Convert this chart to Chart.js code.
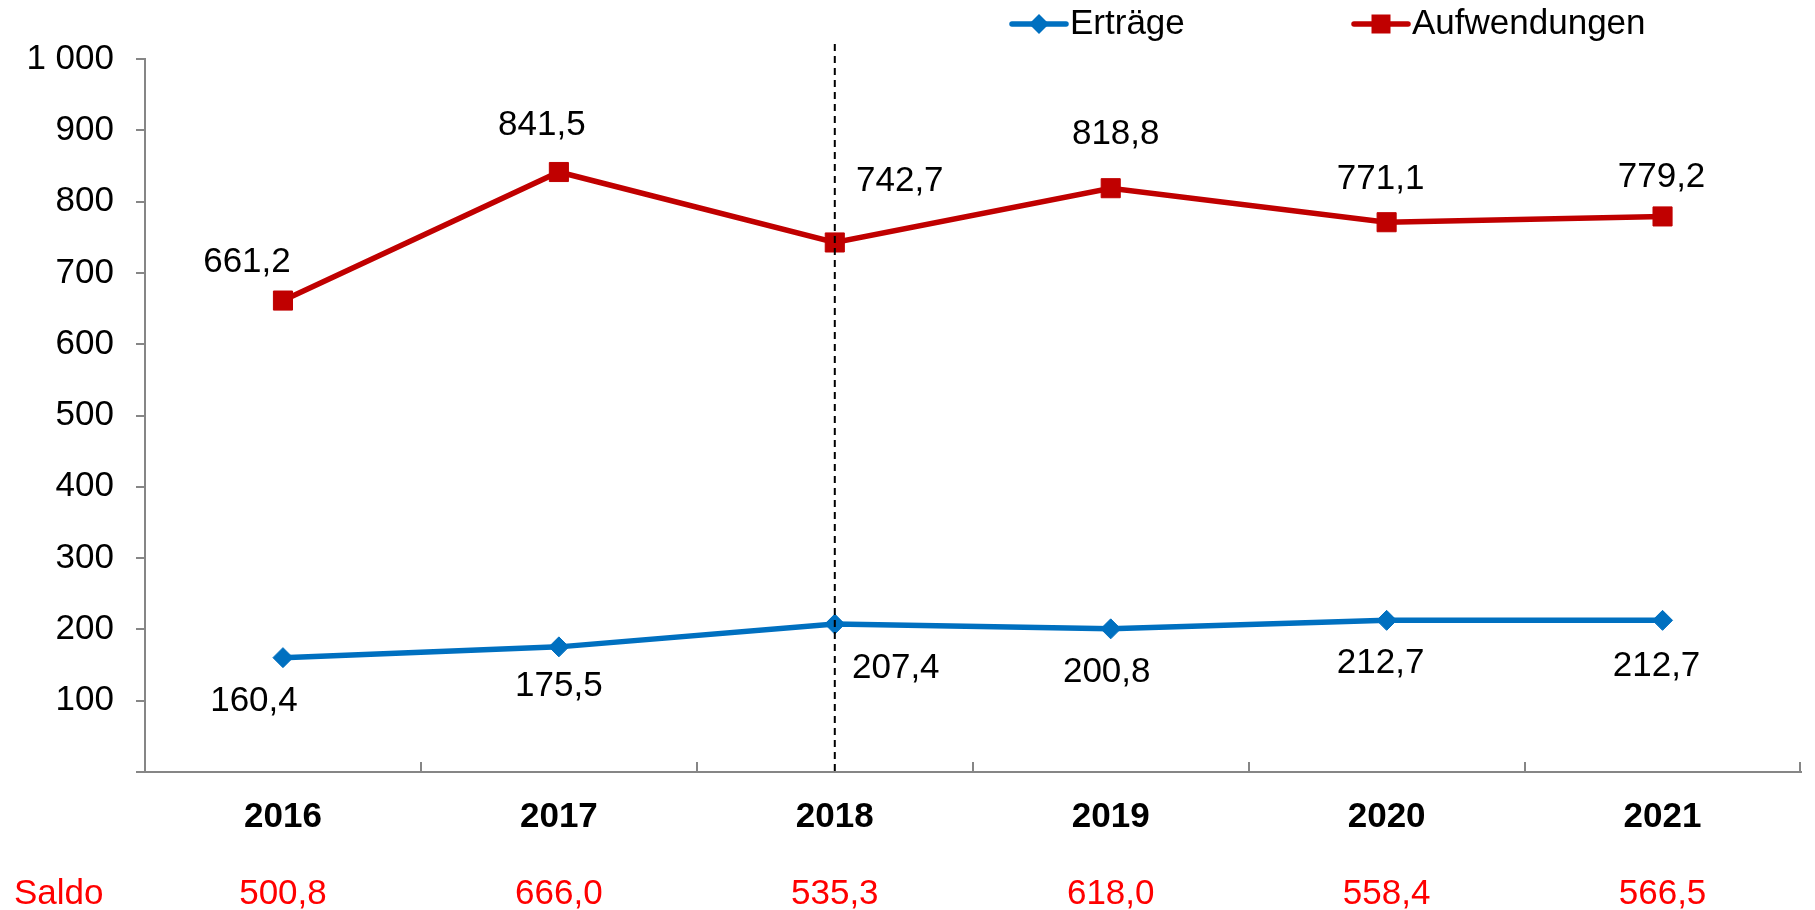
<!DOCTYPE html>
<html>
<head>
<meta charset="utf-8">
<title>Erträge und Aufwendungen</title>
<script src="https://cdn.jsdelivr.net/npm/chart.js@4.4.1/dist/chart.umd.min.js"></script>
<style>
  body { margin: 0; background: #fff; }
  #wrap { width: 1815px; height: 910px; }
</style>
</head>
<body>
<div id="wrap"><canvas id="ergebnisChart" width="1815" height="910"></canvas></div>
<script>
// Daten
var jahre = ['2016', '2017', '2018', '2019', '2020', '2021'];
var ertraege = [160.4, 175.5, 207.4, 200.8, 212.7, 212.7];
var aufwendungen = [661.2, 841.5, 742.7, 818.8, 771.1, 779.2];
var saldo = [500.8, 666.0, 535.3, 618.0, 558.4, 566.5];
var yTicks = [0, 100, 200, 300, 400, 500, 600, 700, 800, 900, 1000];
var markerJahr = '2018'; // gestrichelte Linie

// Verschiebung der Wertebeschriftung gegenüber dem Punkt (px)
var ertraegeLabelShift = [[-29, 44], [0, 39], [61, 44], [-4, 44], [-6, 43], [-6, 46]];
var aufwLabelShift = [[-36, -38], [-17, -47], [65, -61], [5, -54], [-6, -43], [-1, -39]];

var BLAU = '#0070C0';
var ROT = '#C00000';
var GRAU = '#868686';
var FONT = '"Liberation Sans", Arial, sans-serif';
var FS = 35;

Chart.defaults.font.family = FONT;
Chart.defaults.font.size = FS;
Chart.defaults.color = '#000';

function zahl(v) {
  return v.toFixed(1).replace('.', ',');
}

function tausender(v) {
  return String(v).replace(/\B(?=(\d{3})+(?!\d))/g, ' ');
}

// Marker wie in der Legende zeichnen
function marker(ctx, style, x, y, color) {
  ctx.fillStyle = color;
  ctx.beginPath();
  if (style === 'rectRot') {
    ctx.moveTo(x - 10, y);
    ctx.lineTo(x, y - 10);
    ctx.lineTo(x + 10, y);
    ctx.lineTo(x, y + 10);
    ctx.closePath();
  } else {
    ctx.rect(x - 9.5, y - 9.5, 19, 19);
  }
  ctx.fill();
}

var extras = {
  id: 'extras',
  afterDatasetsDraw: function (chart) {
    var ctx = chart.ctx;
    var area = chart.chartArea;
    ctx.save();

    // gestrichelte Linie bei 2018
    var xm = chart.scales.x.getPixelForValue(jahre.indexOf(markerJahr));
    ctx.strokeStyle = '#000';
    ctx.lineWidth = 2;
    ctx.setLineDash([7, 5]);
    ctx.beginPath();
    ctx.moveTo(xm, area.top - 15);
    ctx.lineTo(xm, area.bottom);
    ctx.stroke();
    ctx.setLineDash([]);

    // Wertebeschriftung
    ctx.font = FS + 'px ' + FONT;
    ctx.fillStyle = '#000';
    ctx.textAlign = 'center';
    ctx.textBaseline = 'middle';
    chart.data.datasets.forEach(function (ds, i) {
      chart.getDatasetMeta(i).data.forEach(function (pt, j) {
        var s = ds.labelShift[j];
        ctx.fillText(zahl(ds.data[j]), pt.x + s[0], pt.y + s[1]);
      });
    });

    // Saldo-Beschriftung links
    var x2 = chart.scales.x2;
    ctx.fillStyle = '#FF0000';
    ctx.textAlign = 'left';
    ctx.fillText('Saldo', 14, x2.top + x2.options.ticks.padding + FS * 0.6);

    // Legende
    var items = [
      { x: 1012, ds: chart.data.datasets[0] },
      { x: 1354, ds: chart.data.datasets[1] }
    ];
    items.forEach(function (it) {
      var y = 24;
      ctx.strokeStyle = it.ds.borderColor;
      ctx.lineWidth = 5.5;
      ctx.lineCap = 'round';
      ctx.beginPath();
      ctx.moveTo(it.x, y);
      ctx.lineTo(it.x + 54, y);
      ctx.stroke();
      marker(ctx, it.ds.pointStyle, it.x + 27, y, it.ds.borderColor);
      ctx.fillStyle = '#000';
      ctx.textAlign = 'left';
      ctx.fillText(it.ds.label, it.x + 58, y);
    });

    ctx.restore();
  }
};

var ctx = document.getElementById('ergebnisChart').getContext('2d');
var ergebnisChart = new Chart(ctx, {
  type: 'line',
  data: {
    labels: jahre,
    datasets: [{
      label: 'Erträge',
      data: ertraege,
      borderColor: BLAU,
      backgroundColor: BLAU,
      borderWidth: 5.5,
      pointStyle: 'rectRot',
      pointRadius: 10,
      pointBorderWidth: 1,
      pointBackgroundColor: BLAU,
      pointBorderColor: BLAU,
      tension: 0,
      fill: false,
      labelShift: ertraegeLabelShift
    }, {
      label: 'Aufwendungen',
      data: aufwendungen,
      borderColor: ROT,
      backgroundColor: ROT,
      borderWidth: 5.5,
      pointStyle: 'rect',
      pointRadius: 13.5,
      pointBorderWidth: 1,
      pointBackgroundColor: ROT,
      pointBorderColor: ROT,
      tension: 0,
      fill: false,
      labelShift: aufwLabelShift
    }]
  },
  options: {
    responsive: false,
    animation: false,
    layout: { padding: { left: 0, top: 59, right: 8, bottom: 0 } },
    plugins: {
      legend: { display: false },
      tooltip: { enabled: false }
    },
    scales: {
      x: {
        position: 'bottom',
        offset: true,
        grid: {
          offset: true,
          drawOnChartArea: false,
          drawTicks: true,
          tickLength: -10,
          color: GRAU,
          lineWidth: 2
        },
        border: { display: true, color: GRAU, width: 2 },
        ticks: {
          font: { size: FS, weight: 'bold' },
          color: '#000',
          padding: 34,
          maxRotation: 0,
          autoSkip: false
        },
        afterFit: function (axis) { axis.height = 80; }
      },
      x2: {
        type: 'category',
        position: 'bottom',
        weight: 1,
        offset: true,
        labels: saldo.map(zahl),
        grid: { display: false, drawTicks: false },
        border: { display: false },
        ticks: {
          font: { size: FS },
          color: '#FF0000',
          padding: 21,
          maxRotation: 0,
          autoSkip: false
        },
        afterFit: function (axis) { axis.height = 58; }
      },
      y: {
        min: 0,
        max: 1000,
        grid: {
          drawOnChartArea: false,
          drawTicks: true,
          tickLength: 9,
          color: GRAU,
          lineWidth: 2
        },
        border: { display: true, color: GRAU, width: 2 },
        ticks: {
          padding: 22,
          color: '#000',
          font: { size: FS },
          callback: function (v) { return v === 0 ? '' : tausender(v); }
        },
        afterBuildTicks: function (axis) {
          axis.ticks = yTicks.map(function (v) { return { value: v }; });
        },
        afterFit: function (axis) { axis.width = 145; }
      }
    }
  },
  plugins: [extras]
});
</script>
</body>
</html>
